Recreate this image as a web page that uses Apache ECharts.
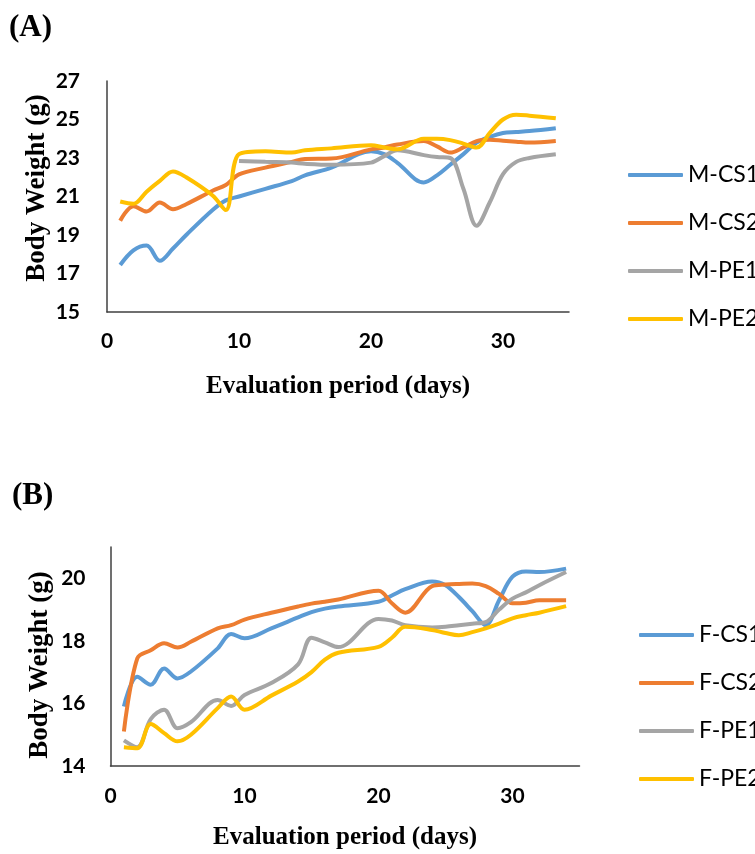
<!DOCTYPE html>
<html>
<head>
<meta charset="utf-8">
<script src="https://cdn.jsdelivr.net/npm/echarts@6/dist/echarts.min.js"></script>
<style>
  html, body { margin: 0; padding: 0; background: #fff; }
  #chart { width: 755px; height: 854px; }
</style>
</head>
<body>
<div id="chart"></div>
<script>
// ---------- Data (A) Male ----------
const mDays  = [1, 2, 3, 4, 5, 6, 8, 9, 10, 12, 14, 15, 17, 20, 21, 22, 24, 25, 26, 27, 28, 29, 30, 31, 32, 34];
const mCS1   = [17.44, 18.2, 18.45, 17.66, 18.3, 19.0, 20.3, 20.8, 21.0, 21.4, 21.8, 22.1, 22.5, 23.35, 23.2, 22.75, 21.73, 22.1, 22.65, 23.2, 23.8, 24.1, 24.3, 24.35, 24.4, 24.55];
const mCS2   = [19.74, 20.5, 20.22, 20.69, 20.34, 20.6, 21.3, 21.6, 22.15, 22.5, 22.8, 22.95, 22.97, 23.45, 23.55, 23.7, 23.88, 23.6, 23.28, 23.55, 23.88, 23.95, 23.9, 23.85, 23.8, 23.88];
const mPE1   = [null, null, null, null, null, null, null, null, 22.85, 22.8, 22.76, 22.7, 22.65, 22.76, 23.1, 23.4, 23.15, 23.05, 23.0, 21.4, 19.48, 20.7, 22.16, 22.8, 23.0, 23.19];
const mPE2   = [20.74, 20.62, 21.25, 21.81, 22.3, 22.0, 21.05, 20.3, 23.2, 23.35, 23.28, 23.4, 23.5, 23.66, 23.55, 23.45, 24.0, 24.0, 23.93, 23.75, 23.54, 24.3, 25.0, 25.25, 25.2, 25.06];
const mNames = ['M-CS1', 'M-CS2', 'M-PE1', 'M-PE2'];

// ---------- Data (B) Female ----------
const fDays  = [1, 2, 3, 4, 5, 6, 8, 9, 10, 12, 14, 15, 16, 17, 20, 21, 22, 24, 25, 26, 27, 28, 29, 30, 31, 32, 34];
const fCS1   = [15.9, 16.85, 16.6, 17.12, 16.8, 17.02, 17.76, 18.22, 18.08, 18.4, 18.75, 18.92, 19.03, 19.1, 19.25, 19.45, 19.65, 19.9, 19.78, 19.4, 18.95, 18.5, 19.3, 20.05, 20.22, 20.2, 20.31];
const fCS2   = [15.1, 17.44, 17.7, 17.92, 17.79, 17.97, 18.4, 18.5, 18.68, 18.9, 19.1, 19.19, 19.25, 19.32, 19.6, 19.2, 18.9, 19.75, 19.8, 19.82, 19.83, 19.75, 19.5, 19.2, 19.22, 19.3, 19.3];
const fPE1   = [14.82, 14.6, 15.5, 15.8, 15.21, 15.4, 16.11, 15.92, 16.27, 16.65, 17.25, 18.1, 17.95, 17.8, 18.7, 18.65, 18.5, 18.43, 18.45, 18.5, 18.55, 18.6, 19.0, 19.35, 19.55, 19.78, 20.2];
const fPE2   = [14.6, 14.57, 15.34, 15.05, 14.79, 15.0, 15.85, 16.22, 15.8, 16.25, 16.7, 17.0, 17.4, 17.62, 17.81, 18.1, 18.45, 18.35, 18.25, 18.18, 18.28, 18.4, 18.55, 18.72, 18.82, 18.9, 19.11];
const fNames = ['F-CS1', 'F-CS2', 'F-PE1', 'F-PE2'];

const xTicks = [0, 10, 20, 30];
const colors = ['#5B9BD5', '#ED7D31', '#A5A5A5', '#FFC000'];

function pairs(days, vals) {
  return days.map((d, i) => [d, vals[i]]).filter(p => p[1] !== null);
}

const chart = echarts.init(document.getElementById('chart'), null, { renderer: 'canvas' });

const tickFont = { fontFamily: 'Lato', fontWeight: 'bold', fontSize: 21, color: '#000' };
const axisLine = { show: true, lineStyle: { color: '#404040', width: 1.5 } };
const titleFont = 'bold 25px "Liberation Serif", "Times New Roman", serif';
const yTitleFont = 'bold 27px "Liberation Serif", "Times New Roman", serif';

function xAxis(gridIndex, margin) {
  return {
    type: 'value', gridIndex: gridIndex, min: 0, max: 35, interval: 10,
    axisLine: axisLine, axisTick: { show: false }, splitLine: { show: false },
    axisLabel: Object.assign({ margin: margin, showMaxLabel: false,
      formatter: v => (xTicks.indexOf(v) >= 0 ? String(v) : '') }, tickFont)
  };
}
function yAxis(gridIndex, min, max, margin) {
  return {
    type: 'value', gridIndex: gridIndex, min: min, max: max, interval: 2,
    axisLine: axisLine, axisTick: { show: false }, splitLine: { show: false },
    axisLabel: Object.assign({ margin: margin, showMaxLabel: min === 15 }, tickFont)
  };
}

function mkSeries(names, arrs, days, idx) {
  return names.map((n, i) => ({
    name: n, type: 'line', xAxisIndex: idx, yAxisIndex: idx,
    data: pairs(days, arrs[i]), smooth: 0.35, symbol: 'none',
    lineStyle: { width: 4, color: colors[i] }, itemStyle: { color: colors[i] },
    z: 2 + i
  }));
}

const legendCommon = {
  orient: 'vertical', icon: 'roundRect', itemWidth: 55, itemHeight: 4, itemGap: 24,
  textStyle: { fontFamily: 'Lato', fontSize: 23, color: '#000', lineHeight: 24 }
};

chart.setOption({
  animation: false,
  color: colors,
  grid: [
    { left: 107, top: 81, width: 462, height: 231 },
    { left: 110.5, top: 547, width: 469, height: 219 }
  ],
  xAxis: [xAxis(0, 19), xAxis(1, 20)],
  yAxis: [yAxis(0, 15, 27, 27), yAxis(1, 14, 21, 25)],
  legend: [
    Object.assign({ data: mNames, left: 623, top: 158 }, legendCommon),
    Object.assign({ data: fNames, left: 634, top: 618 }, legendCommon)
  ],
  series: mkSeries(mNames, [mCS1, mCS2, mPE1, mPE2], mDays, 0)
    .concat(mkSeries(fNames, [fCS1, fCS2, fPE1, fPE2], fDays, 1)),
  graphic: [
    { type: 'text', left: 9, top: 12, style: { text: '(A)', font: 'bold 31px "Liberation Serif", serif', fill: '#000' } },
    { type: 'text', left: 12, top: 480, style: { text: '(B)', font: 'bold 31px "Liberation Serif", serif', fill: '#000' } },
    { type: 'text', x: 338, y: 387, style: { text: 'Evaluation period (days)', font: titleFont, fill: '#000', textAlign: 'center', textVerticalAlign: 'middle' } },
    { type: 'text', x: 345, y: 838, style: { text: 'Evaluation period (days)', font: titleFont, fill: '#000', textAlign: 'center', textVerticalAlign: 'middle' } },
    { type: 'text', x: 37, y: 188, rotation: Math.PI / 2, style: { text: 'Body Weight (g)', font: yTitleFont, fill: '#000', textAlign: 'center', textVerticalAlign: 'middle' } },
    { type: 'text', x: 40, y: 665, rotation: Math.PI / 2, style: { text: 'Body Weight (g)', font: yTitleFont, fill: '#000', textAlign: 'center', textVerticalAlign: 'middle' } }
  ]
});
</script>
</body>
</html>
